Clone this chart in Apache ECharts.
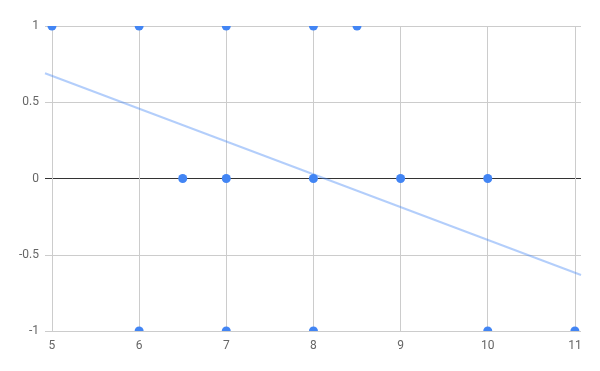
<!DOCTYPE html>
<html>
<head>
<meta charset="utf-8">
<script src="https://cdn.jsdelivr.net/npm/echarts@6/dist/echarts.min.js"></script>
<style>html,body{margin:0;padding:0;background:#fff}#c{width:600px;height:371px}</style>
</head>
<body>
<div id="c"></div>
<script>
const xs = [5, 6, 7, 8, 8.5, 6.5, 7, 8, 9, 10, 6, 7, 8, 10, 11];
const ys = [1, 1, 1, 1, 1, 0, 0, 0, 0, 0, -1, -1, -1, -1, -1];
const xTicks = [5, 6, 7, 8, 9, 10, 11];
const yTicks = [-1, -0.5, 0, 0.5, 1];
const trendX = [4.92, 11.07];
const trendY = [0.69, -0.633];

const points = xs.map((x, i) => [x, ys[i]]);
const trend = trendX.map((x, i) => [x, trendY[i]]);

const chart = echarts.init(document.getElementById('c'), null, {renderer: 'canvas'});
const labelStyle = {color: '#666', fontFamily: 'Roboto', fontSize: 12};
chart.setOption({
  animation: false,
  grid: {left: 45, right: 19, top: 26, bottom: 40, containLabel: false},
  xAxis: {
    type: 'value', min: trendX[0], max: trendX[1],
    axisLine: {show: false},
    axisTick: {show: false, customValues: xTicks},
    axisLabel: Object.assign({customValues: xTicks, margin: 9, showMinLabel: true, showMaxLabel: true}, labelStyle),
    splitLine: {show: true, lineStyle: {color: '#cccccc', width: 1}}
  },
  yAxis: {
    type: 'value', min: -1, max: 1, interval: 0.5,
    axisLine: {show: false},
    axisTick: {show: false},
    axisLabel: Object.assign({margin: 6, formatter: v => String(v)}, labelStyle),
    splitLine: {show: true, lineStyle: {color: ['#cccccc', '#cccccc', '#333333', '#cccccc', '#cccccc'], width: 1}}
  },
  series: [
    {
      type: 'line', data: trend, showSymbol: false, silent: true, z: 3,
      lineStyle: {color: '#4285F4', opacity: 0.4, width: 2}
    },
    {
      type: 'custom', clip: true, data: points, z: 4,
      renderItem: function (params, api) {
        const p = api.coord([api.value(0), api.value(1)]);
        return {type: 'circle', shape: {cx: p[0], cy: p[1], r: 4.5}, style: {fill: '#4285F4'}};
      }
    }
  ]
});
</script>
</body>
</html>
